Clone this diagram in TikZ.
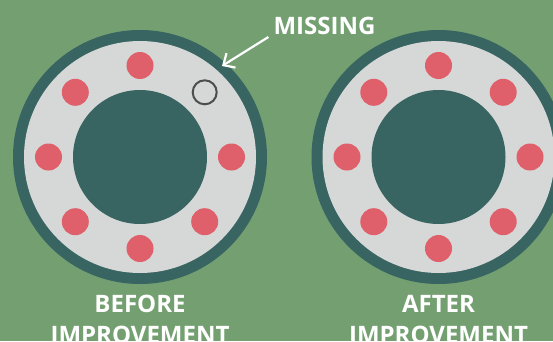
\documentclass[tikz,border=0pt]{standalone}
\usepackage{fontspec}
\setmainfont{Open Sans}
\usepackage{xcolor}
\usetikzlibrary{arrows.meta}
\definecolor{leaf}{RGB}{116,160,113}
\definecolor{shell}{RGB}{56,100,98}
\definecolor{race}{RGB}{214,216,215}
\definecolor{ball}{RGB}{223,95,106}
\definecolor{hole}{RGB}{77,77,77}

\begin{document}
\begin{tikzpicture}[x=1pt, y=1pt,
    every node/.style={font=\fontsize{24}{30}\selectfont\bfseries, text=white, inner sep=0pt},
    >={Straight Barb[length=9pt,width=17pt]}]
  \def\rout{127}
  \def\rring{116}
  \def\rhub{67}
  \def\rpath{91.5}
  \def\rball{13.5}
  \fill[leaf] (0,0) rectangle (553,341);
  \useasboundingbox (0,0) rectangle (553,341);
  \clip (0,0) rectangle (553,341);
  % two bearings
  \foreach \cx in {140,438.5} {
    \fill[shell] (\cx,184) circle (\rout);
    \fill[race]  (\cx,184) circle (\rring);
    \fill[shell] (\cx,184) circle (\rhub);
  }
  % balls, one gone on the left
  \foreach \a in {0,90,135,180,225,270,315}
    \fill[ball] (140,184) ++(\a:\rpath) circle (\rball);
  \draw[hole, line width=2pt] (140,184) ++(45:\rpath) circle (12);
  \foreach \a in {0,45,...,315}
    \fill[ball] (438.5,184) ++(\a:\rpath) circle (\rball);
  % labels
  \node[anchor=base] (missing) at (324.5,307) {MISSING};
  \coordinate (gap) at (222,275);
  \draw[->, white, line width=2.2pt] ([shift={(-5,-3)}]missing.base west) -- (gap);
  \node[anchor=base] (before) at (140,29) {BEFORE};
  \node[anchor=base] (beforeimp) at (140,-2) {IMPROVEMENT};
  \node[anchor=base] (after) at (438.5,29) {AFTER};
  \node[anchor=base] (afterimp) at (438.5,-2) {IMPROVEMENT};
\end{tikzpicture}
\end{document}
